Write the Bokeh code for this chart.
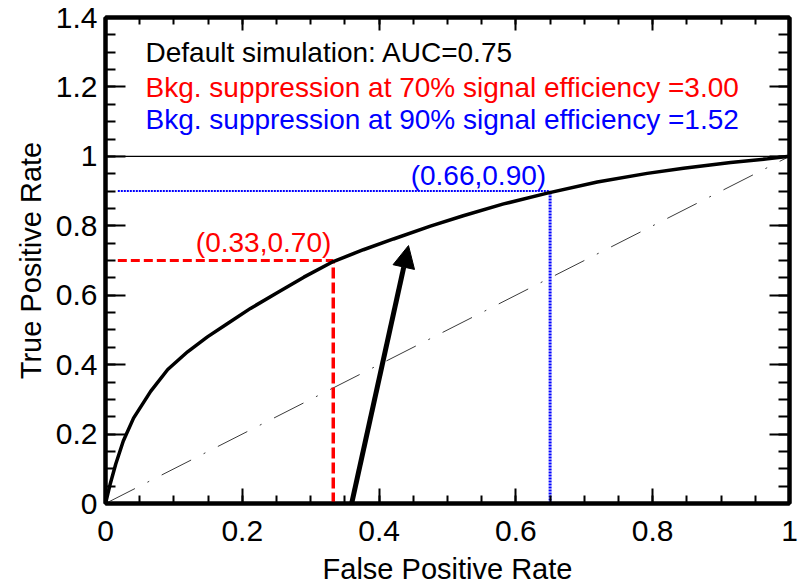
from bokeh.plotting import figure
from bokeh.models import Label, Arrow, NormalHead, FixedTicker, LinearAxis, Range1d
from bokeh.embed import file_html
from bokeh.resources import INLINE
import numpy as np

# ---- data ----
fpr = [0, 0.007, 0.015, 0.026, 0.041, 0.066, 0.091, 0.12, 0.149, 0.178, 0.212,
       0.251, 0.29, 0.333, 0.377, 0.421, 0.475, 0.523, 0.582, 0.646, 0.719,
       0.792, 0.845, 0.914, 0.968, 1.0]
tpr = [0, 0.057, 0.114, 0.18, 0.246, 0.323, 0.386, 0.437, 0.48, 0.518, 0.562,
       0.607, 0.652, 0.697, 0.731, 0.762, 0.799, 0.829, 0.863, 0.894, 0.926,
       0.951, 0.966, 0.982, 0.993, 1.0]
diag_x = [0, 1]
diag_y = [0, 1]
unity_x = [0, 1]
unity_y = [1, 1]
red_point = [0.333, 0.70]
red_point_label = "(0.33,0.70)"
blue_point = [0.65, 0.90]
blue_point_label = "(0.66,0.90)"
guide_start = 0.018
info_lines = ["Default simulation: AUC=0.75",
              "Bkg. suppression at 70% signal efficiency =3.00",
              "Bkg. suppression at 90% signal efficiency =1.52"]
info_colors = ["black", "#ff0000", "#0000ff"]
x_ticks = [0, 0.2, 0.4, 0.6, 0.8, 1.0]
x_tick_labels = ["0", "0.2", "0.4", "0.6", "0.8", "1"]
y_ticks = [0, 0.2, 0.4, 0.6, 0.8, 1.0, 1.2, 1.4]
y_tick_labels = ["0", "0.2", "0.4", "0.6", "0.8", "1", "1.2", "1.4"]
x_title = "False Positive Rate"
y_title = "True Positive Rate"
arrow_start = [0.333, -0.24]
arrow_end = [0.443, 0.743]

FONT = "Liberation Sans"

p = figure(width=805, height=587, x_range=Range1d(0, 1), y_range=Range1d(0, 1.4),
           output_backend="svg", toolbar_location=None,
           min_border_left=105, min_border_right=16, min_border_top=17,
           min_border_bottom=84, x_axis_label=x_title, y_axis_label=y_title)
p.grid.visible = False
p.outline_line_color = "black"
p.outline_line_width = 4
p.background_fill_color = "white"
p.border_fill_color = "white"

x_minor = list(np.round(np.arange(0, 1.0001, 0.05), 3))
y_minor = list(np.round(np.arange(0, 1.4001, 0.05), 3))


def style_axis(ax, ticks, labels, minor, tick_len, minor_len, show_labels):
    ax.ticker = FixedTicker(ticks=ticks, minor_ticks=minor)
    ax.axis_line_width = 4
    ax.axis_line_color = "black"
    ax.major_tick_in = tick_len
    ax.major_tick_out = 0
    ax.minor_tick_in = minor_len
    ax.minor_tick_out = 0
    ax.major_tick_line_width = 2
    ax.minor_tick_line_width = 2
    ax.major_tick_line_color = "black"
    ax.minor_tick_line_color = "black"
    ax.major_label_text_font = FONT
    ax.major_label_text_color = "black"
    if show_labels:
        ax.major_label_overrides = {t: l for t, l in zip(ticks, labels)}
        ax.major_label_text_font_size = "30px"
    else:
        ax.major_label_overrides = {t: "" for t in ticks}
        ax.major_label_text_font_size = "1px"
        ax.major_label_standoff = 0


xa = p.xaxis[0]
ya = p.yaxis[0]
style_axis(xa, x_ticks, x_tick_labels, x_minor, 15, 8, True)
style_axis(ya, y_ticks, y_tick_labels, y_minor, 20, 10, True)
xa.major_label_standoff = 17
ya.major_label_standoff = 8
for ax in (xa, ya):
    ax.axis_label_text_font = FONT
    ax.axis_label_text_font_size = "29px"
    ax.axis_label_text_font_style = "normal"
    ax.axis_label_text_color = "black"
xa.axis_label_standoff = 9
ya.axis_label_standoff = 6

top = LinearAxis()
style_axis(top, x_ticks, x_tick_labels, x_minor, 13, 7, False)
p.add_layout(top, "above")
right = LinearAxis()
style_axis(right, y_ticks, y_tick_labels, y_minor, 20, 11, False)
p.add_layout(right, "right")

# reference lines
p.line(unity_x, unity_y, line_color="black", line_width=1.3)
p.line(diag_x, diag_y, line_color="#3a3a3a", line_width=1, line_dash="33 14 2 14")

# guides to operating points
p.line([guide_start, red_point[0]], [red_point[1], red_point[1]],
       line_color="#ff0000", line_width=3, line_dash="9 4")
p.line([red_point[0], red_point[0]], [0, red_point[1]],
       line_color="#ff0000", line_width=3.5, line_dash="11 4")
p.line([guide_start, blue_point[0]], [blue_point[1], blue_point[1]],
       line_color="#0000ff", line_width=2, line_dash="2 1")
p.line([blue_point[0], blue_point[0]], [0, blue_point[1]],
       line_color="#0000ff", line_width=3, line_dash="2 1")

# ROC curve
p.line(fpr, tpr, line_color="black", line_width=3.5)

# point labels
p.add_layout(Label(x=red_point[0], y=red_point[1], text=red_point_label,
                   text_align="right", text_baseline="middle", x_offset=-2, y_offset=18,
                   text_color="#ff0000", text_font=FONT, text_font_size="28px"))
p.add_layout(Label(x=blue_point[0], y=blue_point[1], text=blue_point_label,
                   text_align="right", text_baseline="middle", x_offset=-4, y_offset=16,
                   text_color="#0000ff", text_font=FONT, text_font_size="28px"))

# info text (placed in screen pixels from the top of the plot frame)
info_offsets = [35, 70, 102]
for txt, col, off in zip(info_lines, info_colors, info_offsets):
    p.add_layout(Label(x=0.0585, y=1.4, y_offset=-off, text=txt, text_align="left",
                       text_baseline="middle", text_color=col,
                       text_font=FONT, text_font_size="28px"))

# arrow
p.add_layout(Arrow(end=NormalHead(size=22, fill_color="black", line_color="black"),
                   x_start=arrow_start[0], y_start=arrow_start[1],
                   x_end=arrow_end[0], y_end=arrow_end[1],
                   line_color="black", line_width=5))

open("out.html", "w").write(file_html(p, INLINE))
